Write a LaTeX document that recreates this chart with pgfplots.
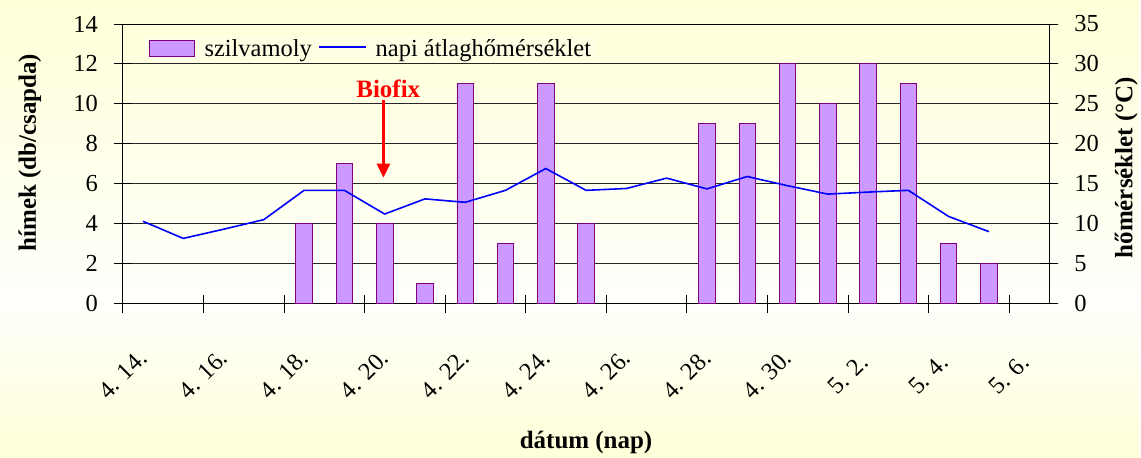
\documentclass[border=0pt]{standalone}
\usepackage{fontspec}
\setmainfont{Liberation Serif}
\usepackage{pgfplots}
\pgfplotsset{compat=1.18}
\usetikzlibrary{arrows.meta}
\definecolor{barfill}{RGB}{204,153,255}
\definecolor{baredge}{RGB}{128,0,128}
\definecolor{linecol}{RGB}{0,0,255}
\definecolor{bgy}{RGB}{255,255,216}
\definecolor{bgmid}{RGB}{255,255,252}
\pgfdeclareverticalshading{bgshade}{100bp}{color(0bp)=(bgy); color(25bp)=(bgy); color(42bp)=(bgmid); color(75bp)=(bgy); color(100bp)=(bgy)}
\pgfplotsset{
  common/.style={
    at={(123pt,154pt)}, anchor=south west, scale only axis,
    width=928pt, height=280pt,
    xmin=0, xmax=23,
    tick align=center, major tick length=18pt,
    tick style={black, line width=0.8pt},
    axis line style={black, line width=0.8pt},
    /pgf/number format/assume math mode=true,
    tick label style={font=\fontsize{24.5}{29}\selectfont},
    label style={font=\bfseries\fontsize{25}{30}\selectfont},
  },
  barleg/.style={legend image code/.code={\draw[##1] (0pt,-8pt) rectangle (45pt,8pt); \path (53pt,0pt);}},
  lineleg/.style={legend image code/.code={%
    \pgfsetstrokecolor{linecol}\pgfsetlinewidth{2pt}%
    \pgfpathmoveto{\pgfpoint{0pt}{1pt}}\pgfpathlineto{\pgfpoint{47pt}{1pt}}\pgfusepath{stroke}%
    \path (54pt,0pt);}},
}
\begin{document}
\begin{tikzpicture}[x=1pt,y=1pt]
\shade[shading=bgshade] (0,0) rectangle (1141,458);
\begin{axis}[common,
  ymin=0, ymax=14, ytick={0,2,...,14},
  xtick={0,2,...,22},
  xticklabels={4. 14., 4. 16., 4. 18., 4. 20., 4. 22., 4. 24., 4. 26., 4. 28., 4. 30., 5. 2., 5. 4., 5. 6.},
  xtick pos=left, ytick pos=left,
  ymajorgrids, grid style={black!85, line width=0.8pt},
  xticklabel style={yshift=-62pt, rotate=45, anchor=center},
  yticklabel style={xshift=-12.5pt},
  xlabel={dátum (nap)},
  xlabel style={at={(axis description cs:0.5,-0.496)}, anchor=center},
  ylabel={hímek (db/csapda)},
  ylabel style={at={(axis description cs:-0.1002,0.54)}, anchor=center},
  legend style={at={(0.0246,0.961)}, anchor=north west, draw=none, fill=bgy!70!white,
    font=\fontsize{24.5}{29}\selectfont, legend columns=2,
    /tikz/every even column/.append style={column sep=4pt}},
  legend cell align=left,
]
\addlegendimage{fill=barfill, draw=baredge, line width=0.8pt, barleg}
\addlegendentry{szilvamoly}
\addlegendimage{draw=linecol, line width=2pt, lineleg}
\addlegendentry{napi átlaghőmérséklet}
\addplot[ybar, bar width=0.41, fill=barfill, draw=baredge, line width=0.8pt, forget plot] coordinates {
(4.5,4) (5.5,7) (6.5,4) (7.5,1) (8.5,11) (9.5,3) (10.5,11) (11.5,4)
(14.5,9) (15.5,9) (16.5,12) (17.5,10) (18.5,12) (19.5,11) (20.5,3) (21.5,2)
};
\node[text=red, font=\bfseries\fontsize{25}{30}\selectfont] at (axis cs:6.59,10.75) {Biofix};
\draw[red, line width=3pt, -{Triangle[width=13pt,length=14pt]}] (axis cs:6.47,10.2) -- (axis cs:6.47,6.3);
\end{axis}
\begin{axis}[common,
  ymin=0, ymax=35, ytick={0,5,...,35},
  axis y line*=right, axis x line=none,
  yticklabel style={xshift=12.5pt},
  ylabel={hőmérséklet (°C)},
  ylabel style={at={(axis description cs:1.083,0.486)}, anchor=center},
]
\addplot[draw=linecol, line width=1.6pt] coordinates {
(0.5,10.3) (1.5,8.15) (2.5,9.3) (3.5,10.5) (4.5,14.17) (5.5,14.17) (6.5,11.2)
(7.5,13.1) (8.5,12.67) (9.5,14.17) (10.5,16.9) (11.5,14.17) (12.5,14.4)
(13.5,15.7) (14.5,14.35) (15.5,15.9) (16.5,14.75) (17.5,13.7) (18.5,13.95)
(19.5,14.17) (20.5,10.9) (21.5,9.0)
};
\end{axis}
\end{tikzpicture}
\end{document}
